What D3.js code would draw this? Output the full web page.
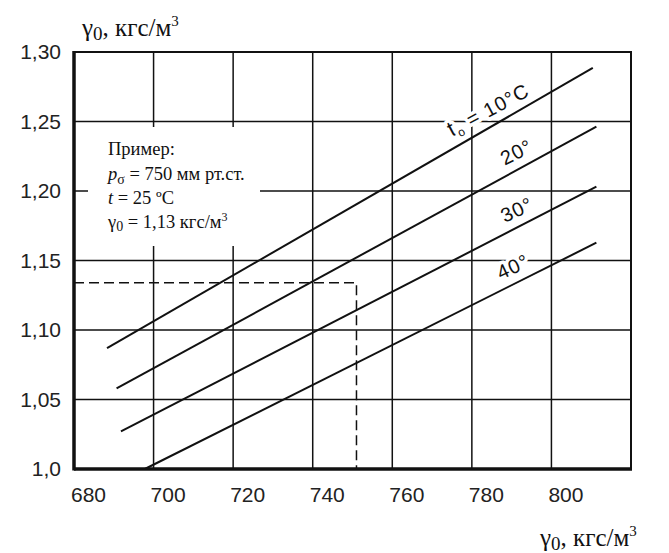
<!DOCTYPE html>
<html><head><meta charset="utf-8">
<script src="https://cdn.jsdelivr.net/npm/d3@7"></script>
<style>body{margin:0;background:#fff}</style>
</head><body>
<svg id="c" width="669" height="553"></svg>
<script>
// ---- data ----
const xTicks = [680, 700, 720, 740, 760, 780, 800];
const yTicks = [1.00, 1.05, 1.10, 1.15, 1.20, 1.25, 1.30];
const yTickLabels = ["1,0", "1,05", "1,10", "1,15", "1,20", "1,25", "1,30"];
const temps = [10, 20, 30, 40];
const startX = [688.3, 690.7, 691.8, 697.8];
const startY = [1.087, 1.058, 1.027, 1.000];
const endX = [810.4, 811.3, 811.3, 811.3];
const endY = [1.2885, 1.2463, 1.2031, 1.1628];
const labelTexts = ["= 10°C", "20°", "30°", "40°"];
const labelAtX = [786, 793, 793, 792];
const exampleX = 751, exampleY = 1.134;
const noteTitle = "Пример:";

// ---- layout ----
const svg = d3.select("#c");
const x = d3.scaleLinear().domain([680, 820]).range([74, 631]);
const y = d3.scaleLinear().domain([1.0, 1.3]).range([469, 52]);
const serif = "'Liberation Serif','Times New Roman',serif";
const sans = "'Liberation Sans',Arial,sans-serif";

// grid
const grid = svg.append("g").attr("stroke", "#111").attr("stroke-width", 1.5);
grid.selectAll("line.v").data(xTicks.filter(d => d > 680)).join("line")
  .attr("x1", d => x(d)).attr("x2", d => x(d)).attr("y1", y(1.3)).attr("y2", y(1.0));
grid.selectAll("line.h").data(yTicks.filter(d => d > 1.0 && d < 1.3)).join("line")
  .attr("y1", d => y(d)).attr("y2", d => y(d)).attr("x1", x(680)).attr("x2", x(820));

// note box (white background hides the grid)
svg.append("rect").attr("x", 88).attr("y", 127).attr("width", 172).attr("height", 119).attr("fill", "#fff");
const note = svg.append("text").attr("font-family", serif).attr("font-size", 18.5).attr("fill", "#111");
note.append("tspan").attr("x", 108).attr("y", 155).text(noteTitle);
const l2 = note.append("tspan").attr("x", 108).attr("y", 180);
l2.append("tspan").attr("font-style", "italic").text("p");
l2.append("tspan").attr("font-size", 14).attr("dy", 4).text("σ");
l2.append("tspan").attr("dy", -4).text(" = 750 мм рт.ст.");
const l3 = note.append("tspan").attr("x", 108).attr("y", 204);
l3.append("tspan").attr("font-style", "italic").text("t");
l3.append("tspan").text(" = 25 ºC");
const l4 = note.append("tspan").attr("x", 108).attr("y", 228);
l4.append("tspan").text("γ");
l4.append("tspan").attr("font-size", 14).attr("dy", 3).text("0");
l4.append("tspan").attr("dy", -3).text(" = 1,13 кгс/м");
l4.append("tspan").attr("font-size", 12).attr("dy", -7).text("3");

// line labels with white halo
const series = temps.map((t, i) => ({ t, x0: startX[i], y0: startY[i], x1: endX[i], y1: endY[i], lab: labelTexts[i], at: labelAtX[i] }));
const labs = svg.append("g");
series.forEach((s, i) => {
  const k = (s.y1 - s.y0) / (s.x1 - s.x0);
  const ly = s.y0 + k * (s.at - s.x0);
  const ang = Math.atan2(y(s.y1) - y(s.y0), x(s.x1) - x(s.x0)) * 180 / Math.PI + 2;
  const g = labs.append("g").attr("transform", `translate(${x(s.at)},${y(ly)}) rotate(${ang})`);
  const t = g.append("text").attr("y", -16).attr("dy", "0.35em").attr("text-anchor", "middle")
    .attr("font-family", sans).attr("font-size", 20).attr("letter-spacing", 1)
    .attr("fill", "#111").attr("stroke", "#fff").attr("stroke-width", 7)
    .attr("paint-order", "stroke").attr("stroke-linejoin", "round");
  if (i === 0) {
    t.append("tspan").attr("font-size", 22).text("t");
    t.append("tspan").attr("font-size", 12).attr("dy", 4).text("o");
    t.append("tspan").attr("dy", -4).text(" " + s.lab);
  } else {
    t.text(s.lab);
  }
});

// series lines
svg.append("g").selectAll("line").data(series).join("line")
  .attr("x1", d => x(d.x0)).attr("y1", d => y(d.y0))
  .attr("x2", d => x(d.x1)).attr("y2", d => y(d.y1))
  .attr("stroke", "#111").attr("stroke-width", 2);

// example dashed line
svg.append("path")
  .attr("d", d3.line()([[x(680), y(exampleY)], [x(exampleX), y(exampleY)], [x(exampleX), y(1.0)]]))
  .attr("fill", "none").attr("stroke", "#111").attr("stroke-width", 1.5).attr("stroke-dasharray", "10,5");

// frame
svg.append("rect").attr("x", x(680)).attr("y", y(1.3)).attr("width", x(820) - x(680)).attr("height", y(1.0) - y(1.3))
  .attr("fill", "none").attr("stroke", "#111").attr("stroke-width", 2);
svg.append("line").attr("x1", x(680)).attr("x2", x(680)).attr("y1", y(1.3) - 1).attr("y2", y(1.0) + 1.5)
  .attr("stroke", "#111").attr("stroke-width", 3.5);
svg.append("line").attr("x1", x(680)).attr("x2", x(820) + 1).attr("y1", y(1.0)).attr("y2", y(1.0))
  .attr("stroke", "#111").attr("stroke-width", 3.5);

// axes (labels only)
const xAxis = svg.append("g").attr("transform", `translate(0,${y(1.0)})`)
  .call(d3.axisBottom(x).tickValues(xTicks).tickFormat(d3.format("d")).tickSize(0).tickPadding(18));
xAxis.select(".domain").remove();
xAxis.selectAll("text").attr("font-family", sans).attr("font-size", 21).attr("fill", "#222").attr("dx", 14);

const yAxis = svg.append("g").attr("transform", `translate(${x(680)},0)`)
  .call(d3.axisLeft(y).tickValues(yTicks).tickFormat((d, i) => yTickLabels[i]).tickSize(0).tickPadding(13));
yAxis.select(".domain").remove();
yAxis.selectAll("text").attr("font-family", sans).attr("font-size", 21).attr("fill", "#222");

// axis titles
function gammaTitle(tx, ty) {
  const t = svg.append("text").attr("x", tx).attr("y", ty).attr("font-family", serif).attr("font-size", 25).attr("fill", "#111");
  t.append("tspan").text("γ");
  t.append("tspan").attr("font-size", 19).attr("dy", 4).text("0");
  t.append("tspan").attr("dy", -4).text(", кгс/м");
  t.append("tspan").attr("font-size", 15).attr("dy", -10).text("3");
}
gammaTitle(82, 36);
gammaTitle(540, 546);
</script>
</body></html>
